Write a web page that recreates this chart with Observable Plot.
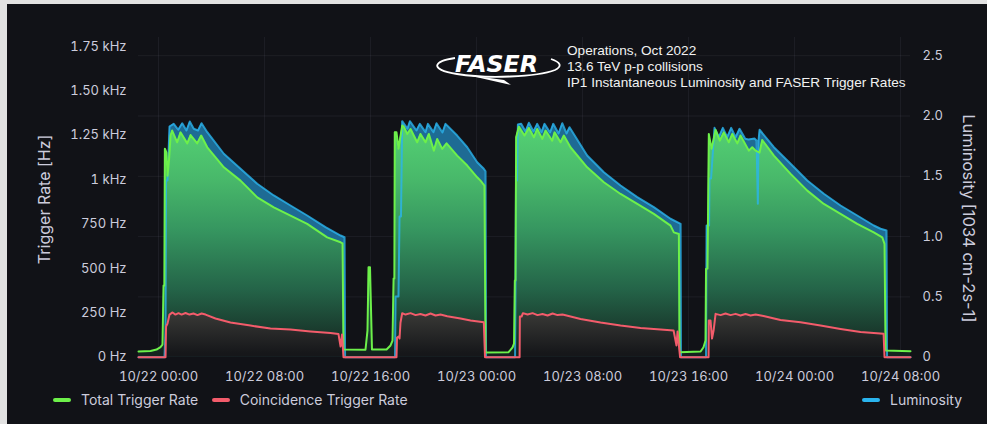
<!DOCTYPE html>
<html>
<head>
<meta charset="utf-8">
<script src="https://cdn.jsdelivr.net/npm/d3@7"></script>
<script src="https://cdn.jsdelivr.net/npm/@observablehq/plot@0.6"></script>
<style>
  html, body { margin: 0; padding: 0; }
  body { width: 987px; height: 424px; overflow: hidden; background: #e2e2e2; position: relative; }
  #panel { position: absolute; left: 7px; top: 4px; width: 980px; height: 420px; background: #111217; font-family: Inter, "Noto Sans", sans-serif; overflow: hidden; }
  #chart { position: absolute; left: 0; top: 0; }
  #title { position: absolute; left: 560px; top: 39px; font-family: "Liberation Sans", Arial, sans-serif; font-size: 13.6px; line-height: 16.2px; color: #f2f2f2; white-space: nowrap; }
  #logo { position: absolute; left: 420px; top: 36px; }
  .legend-item { position: absolute; top: 385px; height: 21px; line-height: 21px; font-size: 14px; color: #ccccdc; white-space: nowrap; display: flex; align-items: center; }
  .swatch { width: 18px; height: 4px; border-radius: 2px; margin-right: 10px; }
</style>
</head>
<body>
<svg width="0" height="0" style="position:absolute">
  <defs>
    <linearGradient id="greenFill" gradientUnits="userSpaceOnUse" x1="0" y1="121" x2="0" y2="349">
      <stop offset="0" stop-color="rgb(84,210,116)"/>
      <stop offset="0.24" stop-color="rgb(72,184,106)"/>
      <stop offset="0.46" stop-color="rgb(54,150,96)"/>
      <stop offset="0.72" stop-color="rgb(36,100,72)"/>
      <stop offset="1" stop-color="rgb(20,36,31)"/>
    </linearGradient>
    <linearGradient id="redFill" gradientUnits="userSpaceOnUse" x1="0" y1="308" x2="0" y2="349">
      <stop offset="0" stop-color="rgb(58,58,55)"/>
      <stop offset="1" stop-color="rgb(22,23,26)"/>
    </linearGradient>
  </defs>
</svg>
<div id="panel">
  <div id="chart"></div>
  <svg id="logo" width="150" height="55" viewBox="0 0 150 55">
    <path d="M 28 18 C 8 21, 0 29, 30 34 C 60 39, 110 37, 128 30 C 136 26, 133 22, 124 19" fill="none" stroke="#ffffff" stroke-width="1.8"/>
    <path d="M 40 35 Q 62 40 84 45 L 77 40 Z" fill="#ffffff"/>
    <text x="28" y="32" font-family="DejaVu Sans, sans-serif" font-weight="bold" font-style="italic" font-size="23" fill="#ffffff" textLength="83" lengthAdjust="spacingAndGlyphs">FASER</text>
  </svg>
  <div id="title">Operations, Oct 2022<br>13.6 TeV p-p collisions<br>IP1 Instantaneous Luminosity and FASER Trigger Rates</div>
  <div class="legend-item" style="left:46px"><span class="swatch" style="background:#6df04a"></span>Total Trigger Rate</div>
  <div class="legend-item" style="left:204.7px"><span class="swatch" style="background:#f35c6b"></span>Coincidence Trigger Rate</div>
  <div class="legend-item" style="left:855px"><span class="swatch" style="background:#2ab4ee"></span>Luminosity</div>
</div>
<script>
// Time is given in hours after 2022-10-22 00:00 UTC.
const startTime = Date.UTC(2022, 9, 22, 0, 0);
const xDomainHours = [-1.51, 56.75];
const timeTicks = ["2022-10-22T00:00Z", "2022-10-22T08:00Z", "2022-10-22T16:00Z", "2022-10-23T00:00Z",
                   "2022-10-23T08:00Z", "2022-10-23T16:00Z", "2022-10-24T00:00Z", "2022-10-24T08:00Z"];
const rateTicks = [0, 250, 500, 750, 1000, 1250, 1500, 1750];
const lumiTicks = [0, 0.5, 1.0, 1.5, 2.0, 2.5];

// Total trigger rate [Hz]
const totalRate = [
  [-1.51,32],[-0.60,35],[-0.15,43],[0.15,57],[0.30,71],[0.38,403],[0.44,403],[0.48,1174],[0.60,1152],[0.68,1022],
  [0.79,1107],[0.91,1248],[1.03,1276],[1.41,1210],[1.66,1266],[2.17,1204],[2.42,1251],[2.92,1204],[3.22,1248],[3.68,1182],
  [4.93,1069],[6.19,994],[7.45,900],[8.70,844],[9.96,797],[11.22,751],[12.73,675],[13.74,647],[13.89,641],[13.96,43],
  [15.62,42],[15.77,150],[15.85,506],[15.96,506],[16.11,43],[17.21,43],[17.51,66],[17.66,94],[17.74,443],[17.80,443],
  [17.83,1266],[17.96,1266],[18.11,1174],[18.39,1304],[18.51,1298],[18.77,1257],[19.02,1285],[19.52,1210],[19.77,1257],[20.15,1210],
  [20.40,1257],[20.78,1163],[21.03,1229],[21.41,1173],[21.74,1204],[22.54,1135],[23.30,1079],[24.05,1013],[24.30,994],[24.60,966],
  [24.68,26],[26.42,28],[26.72,55],[26.83,77],[26.89,432],[26.94,432],[26.99,1238],[27.19,1298],[27.62,1248],[27.95,1291],
  [28.33,1238],[28.58,1285],[28.96,1229],[29.21,1276],[29.71,1219],[29.89,1266],[30.34,1210],[30.59,1248],[31.09,1182],[32.35,1069],
  [33.61,985],[34.87,919],[36.13,863],[37.38,807],[38.64,741],[38.89,703],[39.27,694],[39.32,28],[40.91,32],[41.13,56],
  [41.28,94],[41.32,497],[41.43,499],[41.53,1257],[41.74,1173],[42.04,1280],[42.36,1219],[42.66,1266],[43.04,1210],[43.30,1257],
  [43.68,1204],[43.92,1248],[44.55,1163],[44.81,1182],[45.06,1163],[45.36,1152],[45.56,1223],[46.44,1135],[47.70,1032],[48.96,938],
  [50.21,863],[51.47,807],[52.73,751],[53.98,703],[54.62,675],[54.79,638],[54.87,38],[56.75,34]
];

// Coincidence trigger rate [Hz]
const coincidenceRate = [
  [-1.51,0],[0.53,0],[0.57,173],[0.68,190],[0.83,240],[1.06,252],[1.28,240],[1.51,248],[1.74,240],[2.04,249],
  [2.34,240],[2.64,246],[2.94,237],[3.25,246],[3.55,240],[4.30,218],[5.43,195],[6.94,178],[8.45,161],[9.96,156],
  [11.47,145],[12.98,136],[13.58,131],[13.74,60],[13.85,128],[13.96,0],
  [17.96,0],[18.00,111],[18.11,116],[18.19,105],[18.26,194],[18.39,248],[18.64,240],[19.02,248],[19.40,237],[19.77,243],
  [20.15,235],[20.53,246],[20.91,235],[21.28,240],[21.79,231],[22.79,218],[23.55,207],[24.55,197],[24.64,0],
  [27.25,0],[27.27,229],[27.40,229],[27.50,248],[27.85,240],[28.23,248],[28.60,237],[28.98,243],[29.36,235],[29.74,246],
  [30.11,237],[30.49,240],[30.87,233],[31.85,215],[33.36,195],[34.87,178],[36.38,164],[37.89,156],[38.87,150],[39.09,66],
  [39.17,145],[39.36,0],
  [41.51,0],[41.53,206],[41.66,206],[41.77,105],[41.89,150],[42.04,244],[42.42,237],[42.79,246],[43.17,237],[43.55,244],
  [43.92,235],[44.30,243],[44.68,235],[45.06,240],[45.66,232],[46.94,209],[48.45,197],[49.96,178],[51.47,159],[52.98,142],
  [54.72,132],[54.79,0],[56.75,0]
];

// IP1 instantaneous luminosity [1e34 cm-2 s-1]
const luminosity = [
  [-1.51,0],[0.45,0],[0.53,0.22],[0.57,1.465],[0.68,1.465],[0.83,1.913],[1.15,1.935],[1.49,1.886],[1.79,1.940],[2.11,1.880],
  [2.36,1.954],[2.66,1.894],[2.98,1.880],[3.25,1.940],[3.68,1.866],[4.93,1.687],[6.19,1.562],[7.45,1.438],[8.70,1.341],[9.96,1.258],
  [11.22,1.175],[12.60,1.078],[13.74,1.009],[14.04,0.995],[14.08,0],
  [17.85,0],[17.89,0.503],[18.11,0.503],[18.19,1.167],[18.30,1.167],[18.39,1.957],[18.79,1.894],[18.97,1.957],[19.47,1.880],[19.72,1.935],
  [20.15,1.866],[20.33,1.935],[20.75,1.866],[20.98,1.940],[21.43,1.863],[21.66,1.935],[22.54,1.838],[23.30,1.741],[23.80,1.658],[24.05,1.617],
  [24.55,1.562],[24.68,1.542],[24.72,0],
  [26.91,0],[26.98,1.465],[27.06,1.465],[27.12,1.930],[27.37,1.935],[27.70,1.872],[27.95,1.944],[28.30,1.872],[28.58,1.935],[28.91,1.866],
  [29.13,1.935],[29.55,1.863],[29.79,1.935],[30.19,1.855],[30.47,1.940],[30.79,1.855],[31.02,1.907],[32.35,1.673],[33.61,1.534],[34.87,1.424],
  [36.13,1.327],[37.38,1.244],[38.64,1.148],[39.40,1.106],[39.43,0],
  [41.32,0],[41.36,1.092],[41.55,1.092],[41.58,1.482],[41.70,1.482],[41.96,1.902],[42.29,1.824],[42.59,1.902],[42.92,1.824],[43.22,1.902],
  [43.55,1.824],[43.85,1.894],[44.28,1.811],[44.53,1.805],[44.98,1.813],[45.13,1.797],[45.23,1.272],[45.28,1.797],[45.36,1.886],[46.44,1.741],
  [47.70,1.604],[48.96,1.465],[50.21,1.355],[51.47,1.258],[52.73,1.175],[53.98,1.092],[54.49,1.065],[54.94,1.051],[54.98,0],[56.75,0]
];

// Luminosity shares the rate scale: one luminosity unit spans this many Hz.
const LUMI_TO_HZ = 679;

const toDate = (h) => new Date(startTime + h * 3600e3);
const rows = (pairs) => pairs.map(([h, v]) => ({t: toDate(h), v}));
const totalRows = rows(totalRate);
const coincRows = rows(coincidenceRate);
const lumiRows = rows(luminosity).map(d => ({t: d.t, v: d.v * LUMI_TO_HZ}));
const tickDates = timeTicks.map(s => new Date(s));

const rateFormat = (v) => v === 0 ? "0 Hz" : v < 1000 ? `${v} Hz` : v === 1000 ? "1 kHz" : `${(v / 1000).toFixed(2)} kHz`;
const lumiFormat = (d) => { const v = d / LUMI_TO_HZ; return Math.abs(v) < 1e-9 ? "0" : v.toFixed(1); };
const textColor = "#ccccdc";

const chart = Plot.plot({
  width: 980,
  height: 385,
  marginLeft: 131,
  marginRight: 77,
  marginTop: 33,
  marginBottom: 32.3,
  style: {background: "transparent", color: textColor, fontFamily: "Inter, 'Noto Sans', sans-serif", fontSize: "13px"},
  x: {type: "utc", domain: xDomainHours.map(toDate)},
  y: {domain: [0, 1800]},
  marks: [
    Plot.gridX(tickDates, {stroke: "#ccccdc", strokeOpacity: 0.07}),
    Plot.gridY(lumiTicks.slice(1).map(v => v * LUMI_TO_HZ), {stroke: "#ccccdc", strokeOpacity: 0.07}),
    Plot.areaY(lumiRows, {x: "t", y: "v", fill: "#1e6b94"}),
    Plot.areaY(totalRows, {x: "t", y: "v", fill: "url(#greenFill)"}),
    Plot.lineY(lumiRows, {x: "t", y: "v", stroke: "#2ab4ee", strokeWidth: 2, strokeOpacity: 0.8}),
    Plot.lineY(totalRows, {x: "t", y: "v", stroke: "#6df04a", strokeWidth: 2}),
    Plot.areaY(coincRows, {x: "t", y: "v", fill: "url(#redFill)"}),
    Plot.lineY(coincRows, {x: "t", y: "v", stroke: "#f35c6b", strokeWidth: 2}),
    Plot.axisX(tickDates, {tickFormat: d3.utcFormat("%m/%d %H:%M"), tickSize: 0, tickPadding: 15, label: null, fill: textColor}),
    Plot.axisY(rateTicks, {anchor: "left", tickFormat: rateFormat, tickSize: 0, tickPadding: 12, label: null, fill: textColor}),
    Plot.axisY(lumiTicks.map(v => v * LUMI_TO_HZ), {anchor: "right", tickFormat: lumiFormat, tickSize: 0, tickPadding: 12, label: null, fill: textColor}),
    Plot.text(["Trigger Rate [Hz]"], {frameAnchor: "left", dx: -94, dy: 2, rotate: -90, textAnchor: "middle", lineAnchor: "middle", fontSize: 16, fill: textColor}),
    Plot.text(["Luminosity [1034 cm-2s-1]"], {frameAnchor: "right", dx: 58, dy: 21, rotate: 90, textAnchor: "middle", lineAnchor: "middle", fontSize: 16.5, fill: textColor})
  ]
});
document.getElementById("chart").appendChild(chart);
</script>
</body>
</html>
